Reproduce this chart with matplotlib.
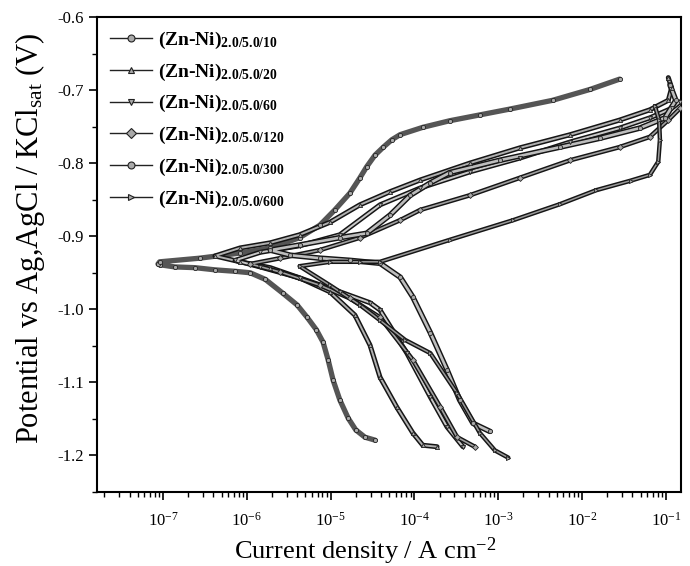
import numpy as np
import matplotlib
matplotlib.use("Agg")
import matplotlib.pyplot as plt
import matplotlib.patheffects as pe
from matplotlib.lines import Line2D
from matplotlib.ticker import MultipleLocator, LogLocator, NullFormatter

plt.rcParams['font.family'] = ['Liberation Serif', 'DejaVu Serif']
plt.rcParams['mathtext.fontset'] = 'custom'
plt.rcParams['mathtext.rm'] = 'Liberation Serif'
plt.rcParams['mathtext.it'] = 'Liberation Serif:italic'
plt.rcParams['mathtext.bf'] = 'Liberation Serif:bold'

# ---- data: log10(current density / A cm^-2) and potential (V) ----
labels = ['2.0/5.0/10', '2.0/5.0/20', '2.0/5.0/60', '2.0/5.0/120', '2.0/5.0/300', '2.0/5.0/600']
markers = ['o', '^', 'v', 'D', 'o', '>']

logi_10 = [-4.47, -4.59, -4.70, -4.79, -4.89, -4.97, -5.03, -5.09, -5.17, -5.28, -5.40, -5.57, -5.78,
           -5.96, -6.14, -6.38, -6.62, -6.86, -7.04, -7.06, -7.04, -6.56, -6.08, -5.72, -5.37, -5.13,
           -4.95, -4.77, -4.65, -4.57, -4.47, -4.37, -4.27, -4.17, -3.90, -3.58, -3.22, -2.86, -2.35,
           -1.90, -1.55]
E_10 = [-1.179, -1.175, -1.165, -1.149, -1.124, -1.097, -1.069, -1.045, -1.028, -1.011, -0.994, -0.978,
        -0.959, -0.950, -0.948, -0.946, -0.943, -0.942, -0.939, -0.938, -0.935, -0.930, -0.923, -0.916,
        -0.902, -0.885, -0.864, -0.841, -0.820, -0.805, -0.789, -0.778, -0.768, -0.761, -0.751, -0.742,
        -0.734, -0.726, -0.714, -0.699, -0.685]

logi_20 = [-3.73, -3.90, -4.02, -4.21, -4.41, -4.53, -4.71, -5.01, -5.37, -5.72, -6.08, -6.38, -6.08,
           -5.72, -5.37, -5.01, -4.65, -4.29, -3.93, -3.34, -2.74, -2.14, -1.55, -1.19, -0.97, -0.93, -0.97]
E_20 = [-1.188, -1.186, -1.169, -1.134, -1.093, -1.049, -1.008, -0.976, -0.957, -0.943, -0.935, -0.927,
        -0.916, -0.909, -0.898, -0.881, -0.857, -0.839, -0.823, -0.800, -0.779, -0.761, -0.741, -0.727,
        -0.714, -0.697, -0.683]

logi_60 = [-3.42, -3.61, -3.81, -4.09, -4.41, -4.53, -4.89, -5.37, -5.84, -6.14, -5.84, -5.37, -4.89,
           -4.41, -3.93, -3.34, -2.74, -2.14, -1.55, -1.19, -0.93, -0.83]
E_60 = [-1.188, -1.161, -1.120, -1.060, -1.001, -0.991, -0.976, -0.957, -0.942, -0.933, -0.922, -0.913,
        -0.898, -0.857, -0.834, -0.812, -0.793, -0.771, -0.752, -0.738, -0.725, -0.716]

logi_120 = [-3.28, -3.49, -3.69, -4.02, -4.41, -4.77, -5.13, -5.60, -5.96, -5.60, -5.13, -4.65, -4.17,
            -3.93, -3.34, -2.74, -2.14, -1.55, -1.19, -0.97, -0.83]
E_120 = [-1.188, -1.175, -1.134, -1.069, -1.011, -0.985, -0.967, -0.949, -0.938, -0.930, -0.919, -0.902,
         -0.878, -0.864, -0.844, -0.820, -0.796, -0.778, -0.764, -0.741, -0.725]

logi_300 = [-3.10, -3.30, -3.46, -3.61, -3.81, -4.02, -4.17, -4.41, -4.77, -5.13, -5.48, -5.72, -5.37,
            -4.89, -4.57, -4.29, -4.05, -3.81, -3.58, -2.98, -2.26, -1.79, -1.31, -1.01, -0.88, -0.95]
E_300 = [-1.167, -1.156, -1.124, -1.083, -1.032, -0.983, -0.956, -0.937, -0.933, -0.930, -0.926, -0.919,
         -0.912, -0.902, -0.896, -0.871, -0.844, -0.827, -0.813, -0.796, -0.778, -0.766, -0.752, -0.738,
         -0.714, -0.693]

logi_600 = [-2.88, -3.04, -3.22, -3.49, -3.81, -4.11, -4.41, -4.65, -5.01, -5.37, -5.01, -4.65, -4.41,
            -3.58, -2.82, -2.26, -1.83, -1.42, -1.19, -1.09, -1.07, -1.08, -1.13]
E_600 = [-1.203, -1.193, -1.169, -1.115, -1.060, -1.042, -1.015, -0.994, -0.967, -0.941, -0.935, -0.935,
         -0.935, -0.905, -0.878, -0.856, -0.837, -0.824, -0.816, -0.798, -0.768, -0.741, -0.722]

xticks_exp = [-7, -6, -5, -4, -3, -2, -1]
yticks = [-0.6, -0.7, -0.8, -0.9, -1.0, -1.1, -1.2]

series = [(logi_10, E_10), (logi_20, E_20), (logi_60, E_60),
          (logi_120, E_120), (logi_300, E_300), (logi_600, E_600)]

# styles: (inner colour, inner width, outer width)
styles = [('#555555', 3.8, 0), ('#b0b0b0', 1.4, 3.6), ('#c8c8c8', 1.4, 3.6),
          ('#a0a0a0', 1.2, 3.3), ('#bdbdbd', 1.9, 4.0), ('#9a9a9a', 1.1, 3.2)]

fig = plt.figure(figsize=(6.9, 5.66), dpi=100)
ax = fig.add_axes([0.1406, 0.1307, 0.8464, 0.8393])

for (lg, e), (col, lw, olw), m in zip(series, styles, markers):
    x = np.power(10.0, np.array(lg))
    effects = [pe.Stroke(linewidth=olw, foreground='#151515'), pe.Normal()] if olw > 0 else None
    ax.plot(x, e, color=col, lw=lw, solid_capstyle='round', solid_joinstyle='round',
            path_effects=effects, zorder=3)
    ax.plot(x, e, ls='none', marker=m, ms=3.0, mfc='#aaaaaa', mec='#222222', mew=0.6, zorder=4)

ax.set_xscale('log')
ax.set_xlim(1.63e-8, 0.152)
ax.set_ylim(-1.25, -0.6)
ax.set_xticks([10.0 ** k for k in xticks_exp])
ax.set_xticklabels([r'$10^{%d}$' % k for k in xticks_exp])
ax.xaxis.set_minor_locator(LogLocator(base=10, subs=np.arange(2, 10), numticks=20))
ax.xaxis.set_minor_formatter(NullFormatter())
ax.set_yticks(yticks)
ax.set_yticklabels(['%.1f' % v for v in yticks])
ax.yaxis.set_minor_locator(MultipleLocator(0.05))
ax.tick_params(which='major', direction='out', length=6, width=1.2, labelsize=12)
ax.tick_params(which='minor', direction='out', length=3.5, width=1.0)
ax.tick_params(axis='x', pad=8)
for s in ax.spines.values():
    s.set_linewidth(1.5)

ax.set_xlabel(r'Current density / A cm$^{-2}$', fontsize=19)
ax.xaxis.set_label_coords(0.46, -0.092)
ax.set_ylabel(r'Potential vs Ag,AgCl / KCl$_{\rm sat}$ (V)', fontsize=22)
ax.yaxis.set_label_coords(-0.085, 0.535)

handles = [Line2D([0], [0], color='#222222', lw=1.0, marker=m, ms=5, mfc='#aaaaaa',
                  mec='#222222', mew=0.8) for m in markers]
leg_labels = [r'(Zn-Ni)$_{\mathbf{%s}}$' % l for l in labels]
leg = ax.legend(handles, leg_labels, loc='upper left', frameon=False, handlelength=2.2,
                labelspacing=0.55, borderaxespad=0.25, handletextpad=0.3,
                prop={'weight': 'bold', 'size': 14})

fig.savefig('out.png', dpi=100)
